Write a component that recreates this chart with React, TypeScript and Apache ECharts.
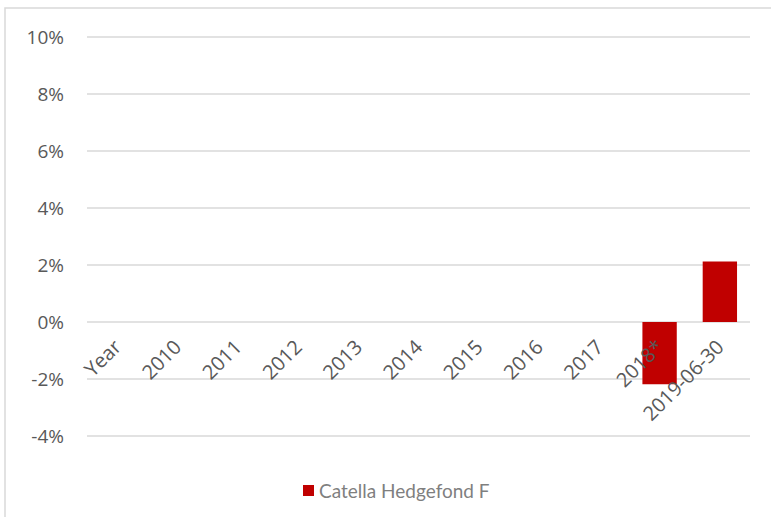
import React, { useEffect, useRef } from "react";
import * as echarts from "echarts";

const categories = ["Year", "2010", "2011", "2012", "2013", "2014", "2015", "2016", "2017", "2018*", "2019-06-30"];
const seriesName = "Catella Hedgefond F";
const values: (number | null)[] = [null, null, null, null, null, null, null, null, null, -2.18, 2.12];
const yTicks = { min: -4, max: 10, interval: 2 };

export default function App() {
  const ref = useRef<HTMLDivElement>(null);
  useEffect(() => {
    if (!ref.current) return;
    const chart = echarts.init(ref.current, undefined, { renderer: "svg" });
    chart.setOption({
      animation: false,
      backgroundColor: "#ffffff",
      graphic: [
        {
          type: "rect",
          shape: { x: 5, y: 8, width: 800, height: 600 },
          style: { fill: "none", stroke: "#d9d9d9", lineWidth: 1.5 },
          silent: true,
        },
      ],
      grid: { left: 87, right: 21, top: 37, bottom: 81, containLabel: false, outerBoundsMode: "none" },
      legend: {
        data: [seriesName],
        top: 476,
        left: 298,
        icon: "rect",
        itemWidth: 11,
        itemHeight: 11,
        itemGap: 5,
        textStyle: { fontFamily: "Lato", fontSize: 19, color: "#7f7f7f" },
      },
      xAxis: {
        type: "category",
        data: categories,
        position: "bottom",
        offset: -114,
        z: 5,
        axisLine: { show: false, onZero: false },
        axisTick: { show: false },
        axisLabel: {
          rotate: 45,
          interval: 0,
          margin: 21,
          fontFamily: "Open Sans",
          fontSize: 20,
          color: "#595959",
        },
        splitLine: { show: false },
      },
      yAxis: {
        type: "value",
        min: yTicks.min,
        max: yTicks.max,
        interval: yTicks.interval,
        axisLine: { show: false },
        axisTick: { show: false },
        axisLabel: {
          formatter: (v: number) => `${v}%`,
          margin: 23,
          fontFamily: "Open Sans",
          fontSize: 19,
          color: "#595959",
        },
        splitLine: { lineStyle: { color: "#d9d9d9", width: 1.5 } },
      },
      series: [
        {
          name: seriesName,
          type: "bar",
          data: values,
          barWidth: "57%",
          z: 2,
          itemStyle: { color: "#C00000" },
        },
      ],
    });
    return () => chart.dispose();
  }, []);
  return (
    <div
      ref={ref}
      style={{ position: "absolute", left: 0, top: 0, width: 771, height: 517 }}
    />
  );
}
